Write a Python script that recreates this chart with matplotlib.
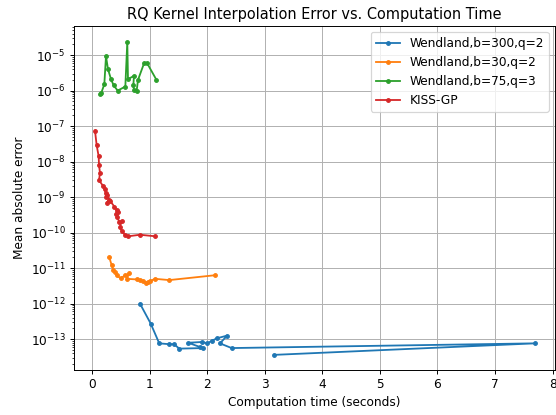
import matplotlib
matplotlib.use('Agg')
import matplotlib.pyplot as plt
import numpy as np

# Timing (seconds) and mean absolute error for each kernel run
wend300_time = [0.833, 1.019, 1.168, 1.342, 1.424, 1.516, 1.933, 1.875, 1.672, 1.904,
                2.002, 2.078, 2.165, 2.349, 2.222, 2.425, 7.69, 3.16]
wend300_err = [1e-12, 2.75e-13, 7.6e-14, 7.2e-14, 7.2e-14, 5.4e-14, 5.6e-14, 6.0e-14,
               7.9e-14, 8.3e-14, 7.6e-14, 8.9e-14, 1.05e-13, 1.26e-13, 7.6e-14,
               5.6e-14, 7.6e-14, 3.6e-14]

wend30_time = [0.301, 0.342, 0.370, 0.405, 0.428, 0.498, 0.573, 0.648, 0.602, 0.776,
               0.833, 0.891, 0.938, 0.978, 1.007, 1.094, 1.342, 2.135]
wend30_err = [2.0e-11, 1.2e-11, 9.1e-12, 7.8e-12, 6.2e-12, 5.2e-12, 6.2e-12, 7.1e-12,
              5.0e-12, 4.8e-12, 4.6e-12, 4.3e-12, 3.9e-12, 4.1e-12, 4.3e-12,
              5.0e-12, 4.6e-12, 6.3e-12]

wend75_time = [0.139, 0.162, 0.214, 0.243, 0.278, 0.330, 0.376, 0.446, 0.579, 0.613,
               0.625, 0.729, 0.718, 0.729, 0.776, 0.799, 0.903, 0.960, 1.12]
wend75_err = [7.9e-7, 8.7e-7, 1.5e-6, 9.3e-6, 4.0e-6, 2.1e-6, 1.4e-6, 1.0e-6, 1.3e-6,
              2.35e-5, 2.1e-6, 2.6e-6, 1.4e-6, 1.07e-6, 1.0e-6, 2.0e-6, 5.8e-6,
              5.8e-6, 2.0e-6]

kiss_time = [0.052, 0.081, 0.116, 0.122, 0.139, 0.122, 0.197, 0.220, 0.237, 0.243,
             0.266, 0.301, 0.255, 0.313, 0.388, 0.428, 0.417, 0.457, 0.440, 0.474,
             0.515, 0.486, 0.515, 0.573, 0.631, 0.833, 1.094]
kiss_err = [7.4e-8, 2.9e-8, 1.4e-8, 7.8e-9, 4.8e-9, 3.0e-9, 2.0e-9, 1.66e-9, 1.32e-9,
            9.8e-10, 1.12e-9, 8.5e-10, 6.9e-10, 7.9e-10, 5.4e-10, 4.3e-10, 3.3e-10,
            3.8e-10, 2.7e-10, 2.0e-10, 2.1e-10, 1.45e-10, 1.12e-10, 8.7e-11, 7.9e-11,
            8.7e-11, 7.9e-11]

DPI = 87
fig = plt.figure(figsize=(556 / DPI, 415 / DPI), dpi=DPI)
ax = fig.add_axes([0.1331, 0.1084, 0.865, 0.829])

ax.plot(wend300_time, wend300_err, '.-', label='Wendland,b=300,q=2')
ax.plot(wend30_time, wend30_err, '.-', label='Wendland,b=30,q=2')
ax.plot(wend75_time, wend75_err, '.-', label='Wendland,b=75,q=3')
ax.plot(kiss_time, kiss_err, '.-', label='KISS-GP')

ax.set_yscale('log')
ax.set_xlim(-0.3125, 8.04)
ax.set_ylim(10 ** -13.87, 10 ** -4.18)
ax.set_yticks([10.0 ** e for e in range(-13, -4)])
ax.grid(True)

ax.set_title('RQ Kernel Interpolation Error vs. Computation Time')
ax.set_xlabel('Computation time (seconds)')
ax.set_ylabel('Mean absolute error')
ax.legend(loc='upper right')

fig.savefig('out.png', dpi=DPI)
